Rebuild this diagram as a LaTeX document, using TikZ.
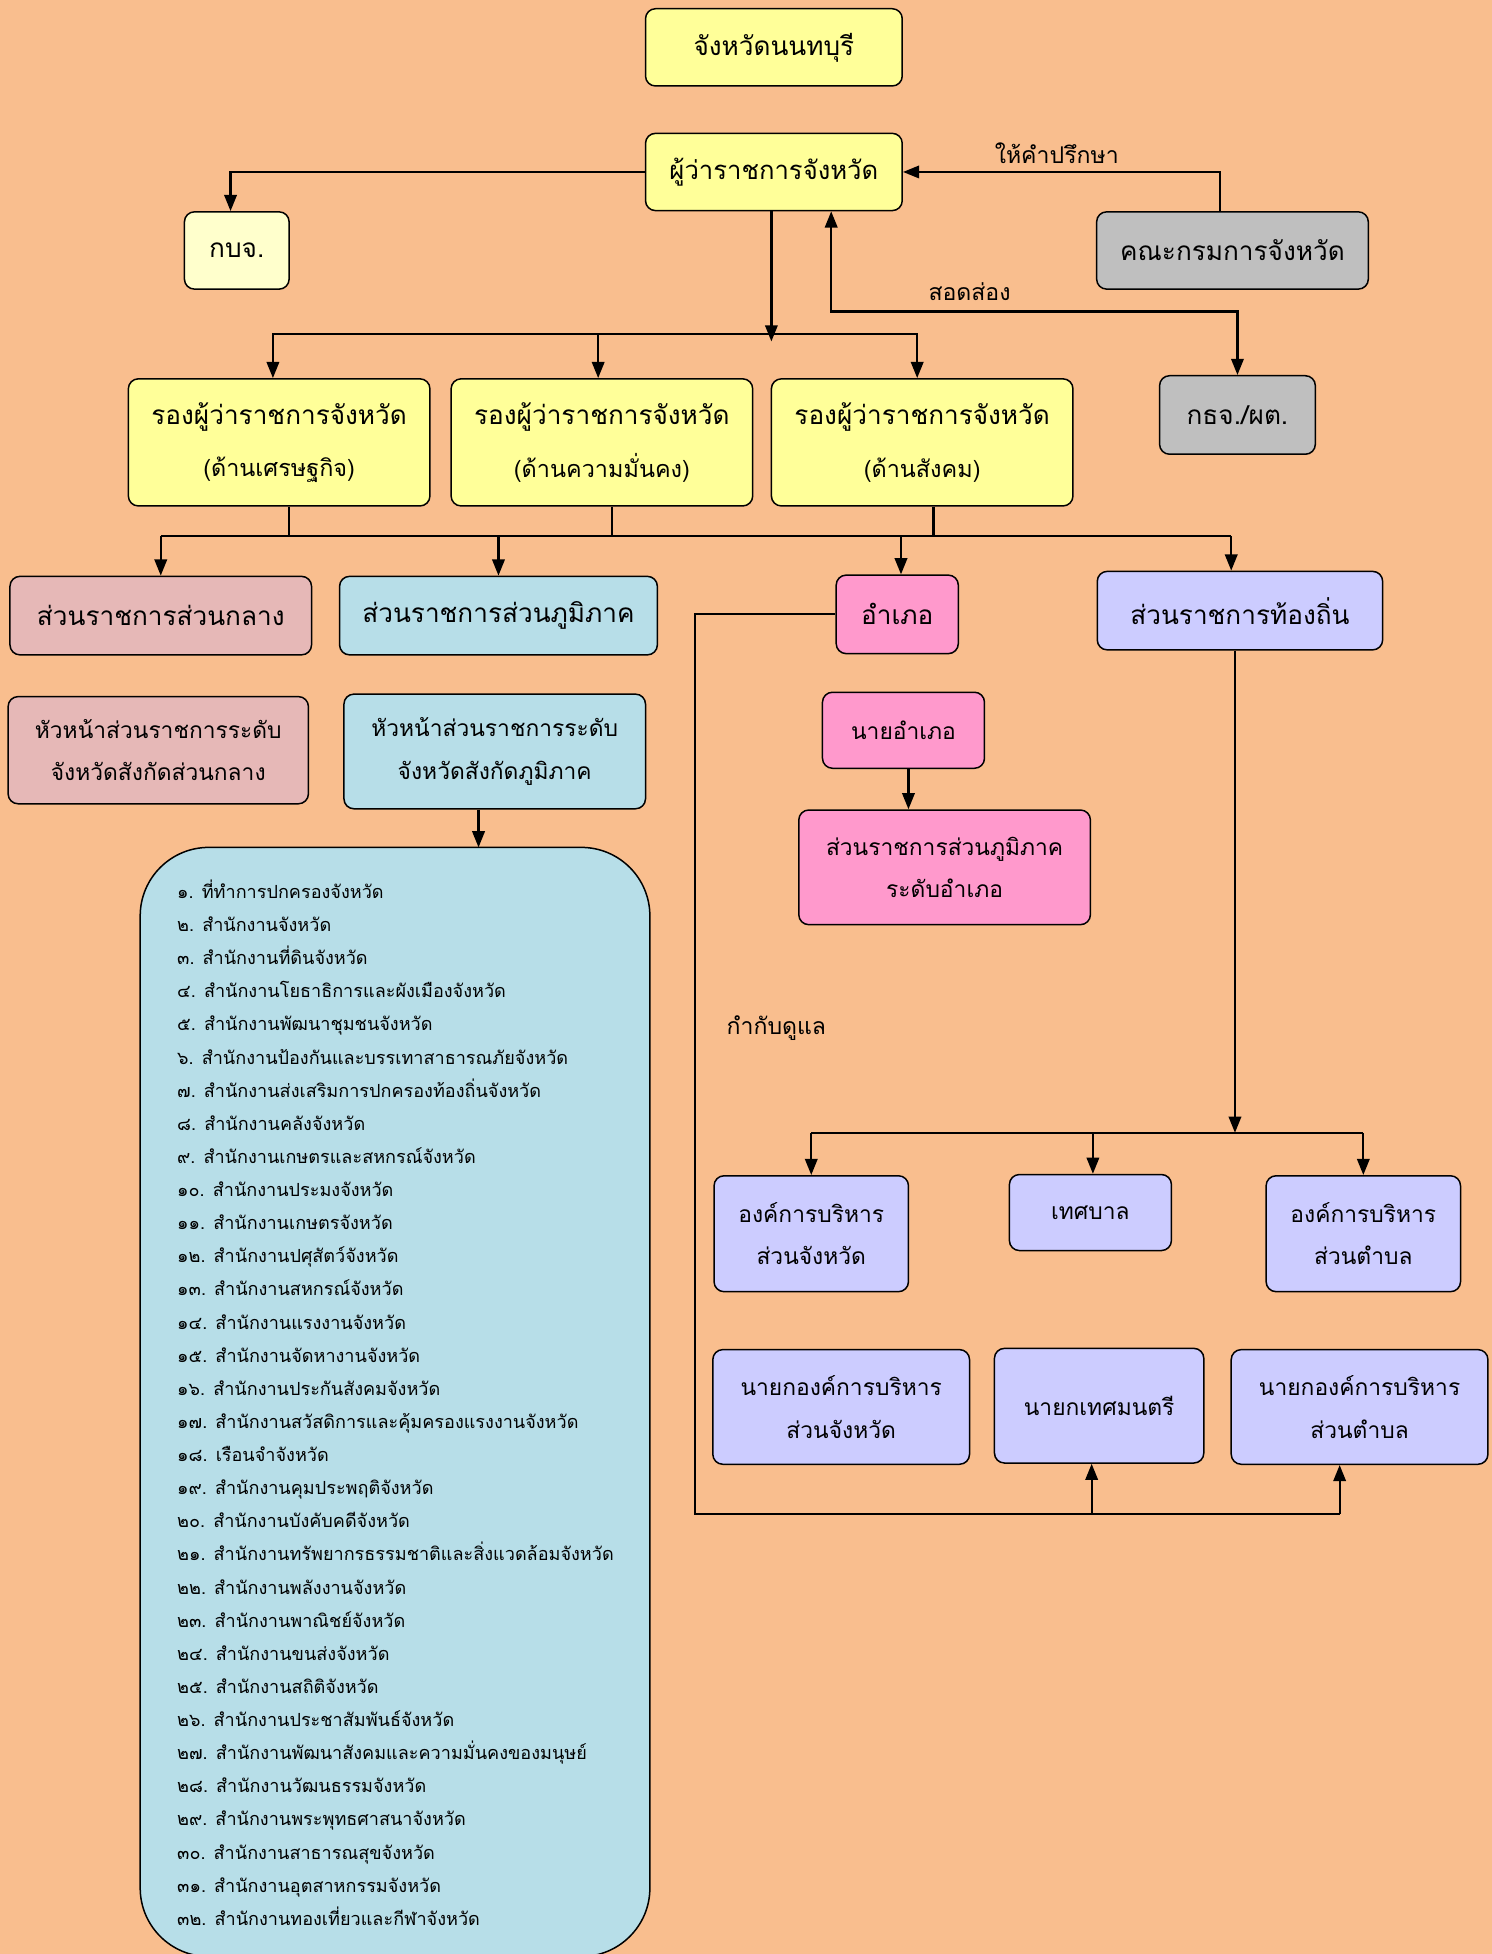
\documentclass[tikz,border=0pt]{standalone}
\usepackage{fontspec}
\setmainfont[Script=Thai]{Loma}
\usepackage{xcolor}
\usetikzlibrary{arrows.meta}
\definecolor{customcolor1}{HTML}{F9BE8E}
\definecolor{customcolor2}{HTML}{FFFF99}
\definecolor{customcolor3}{HTML}{FFFFCC}
\definecolor{customcolor4}{HTML}{BFBFBF}
\definecolor{customcolor5}{HTML}{E6B8B7}
\definecolor{customcolor6}{HTML}{B7DEE8}
\definecolor{customcolor7}{HTML}{FF99CC}
\definecolor{customcolor8}{HTML}{CCCCFF}

\begin{document}
\begin{tikzpicture}[x = 1pt, y = -1pt,
        box/.style = {draw, rectangle, rounded corners = 8pt, line width = 1.2pt, align = center, font = \fontsize{18.3}{34}\selectfont},
        bigbox/.style = {box, font = \fontsize{21}{26}\selectfont},
        deputy/.style = {box, fill = customcolor2, minimum width = 242pt, minimum height = 102pt, font = \fontsize{21}{42}\selectfont},
        item/.style = {anchor = base west, inner sep = 0pt, font = \fontsize{14.5}{18}\selectfont},
        lbl/.style = {font = \fontsize{18.5}{22}\selectfont},
        link/.style = {line width = 1.8pt},
        arr/.style = {link, ->, > = {Triangle[length = 13pt, width = 10pt]}}]

        % Background
        \fill [customcolor1] (0, 0) rectangle (1197, 1568);
        \useasboundingbox (0, 0) rectangle (1197, 1568);

        % Nodes
        \node [bigbox, fill = customcolor2, minimum width = 206pt, minimum height = 62pt] (title) at (621, 38) {จังหวัดนนทบุรี};
        \node [bigbox, fill = customcolor2, minimum width = 206pt, minimum height = 62pt, font = \fontsize{20.6}{26}\selectfont] (gov) at (621, 138) {ผู้ว่าราชการจังหวัด};
        \node [bigbox, fill = customcolor3, minimum width = 84pt, minimum height = 62pt] (kbj) at (190, 201) {กบจ.};
        \node [bigbox, fill = customcolor4, minimum width = 218pt, minimum height = 62pt] (cmt) at (989, 201) {คณะกรมการจังหวัด};
        \node [bigbox, fill = customcolor4, minimum width = 125pt, minimum height = 63pt] (kbt) at (993, 333) {กธจ./ผต.};

        \node [deputy] (dep1) at (224, 355) {รองผู้ว่าราชการจังหวัด\\{\fontsize{18.8}{22}\selectfont(ด้านเศรษฐกิจ)}};
        \node [deputy] (dep2) at (483, 355) {รองผู้ว่าราชการจังหวัด\\{\fontsize{18.8}{22}\selectfont(ด้านความมั่นคง)}};
        \node [deputy] (dep3) at (740, 355) {รองผู้ว่าราชการจังหวัด\\{\fontsize{18.8}{22}\selectfont(ด้านสังคม)}};

        \node [bigbox, fill = customcolor5, minimum width = 242pt, minimum height = 63pt] (cen) at (129, 494) {ส่วนราชการส่วนกลาง};
        \node [bigbox, fill = customcolor6, minimum width = 255pt, minimum height = 63pt] (reg) at (400, 494) {ส่วนราชการส่วนภูมิภาค};
        \node [bigbox, fill = customcolor7, minimum width = 98pt, minimum height = 63pt] (amp) at (720, 493) {อำเภอ};
        \node [bigbox, fill = customcolor8, minimum width = 229pt, minimum height = 63pt] (loc) at (995, 490) {ส่วนราชการท้องถิ่น};

        \node [box, fill = customcolor5, minimum width = 241pt, minimum height = 86pt] (hd1) at (127, 602) {หัวหน้าส่วนราชการระดับ\\จังหวัดสังกัดส่วนกลาง};
        \node [box, fill = customcolor6, minimum width = 242pt, minimum height = 92pt] (hd2) at (397, 603) {หัวหน้าส่วนราชการระดับ\\จังหวัดสังกัดภูมิภาค};
        \node [box, fill = customcolor7, minimum width = 130pt, minimum height = 61pt] (nao) at (725, 586) {นายอำเภอ};
        \node [box, fill = customcolor7, minimum width = 234pt, minimum height = 92pt] (dist) at (758, 696) {ส่วนราชการส่วนภูมิภาค\\ระดับอำเภอ};

        \node [box, fill = customcolor6, rounded corners = 55pt, minimum width = 409pt, minimum height = 890pt] (list) at (317, 1125) {};
        \foreach \txt [count = \i] in {๑. ที่ทำการปกครองจังหวัด, ๒. สำนักงานจังหวัด, ๓. สำนักงานที่ดินจังหวัด, ๔. สำนักงานโยธาธิการและผังเมืองจังหวัด, ๕. สำนักงานพัฒนาชุมชนจังหวัด, ๖. สำนักงานป้องกันและบรรเทาสาธารณภัยจังหวัด, ๗. สำนักงานส่งเสริมการปกครองท้องถิ่นจังหวัด, ๘. สำนักงานคลังจังหวัด, ๙. สำนักงานเกษตรและสหกรณ์จังหวัด, ๑๐. สำนักงานประมงจังหวัด, ๑๑. สำนักงานเกษตรจังหวัด, ๑๒. สำนักงานปศุสัตว์จังหวัด, ๑๓. สำนักงานสหกรณ์จังหวัด, ๑๔. สำนักงานแรงงานจังหวัด, ๑๕. สำนักงานจัดหางานจังหวัด, ๑๖. สำนักงานประกันสังคมจังหวัด, ๑๗. สำนักงานสวัสดิการและคุ้มครองแรงงานจังหวัด, ๑๘. เรือนจำจังหวัด, ๑๙. สำนักงานคุมประพฤติจังหวัด, ๒๐. สำนักงานบังคับคดีจังหวัด, ๒๑. สำนักงานทรัพยากรธรรมชาติและสิ่งแวดล้อมจังหวัด, ๒๒. สำนักงานพลังงานจังหวัด, ๒๓. สำนักงานพาณิชย์จังหวัด, ๒๔. สำนักงานขนส่งจังหวัด, ๒๕. สำนักงานสถิติจังหวัด, ๒๖. สำนักงานประชาสัมพันธ์จังหวัด, ๒๗. สำนักงานพัฒนาสังคมและความมั่นคงของมนุษย์, ๒๘. สำนักงานวัฒนธรรมจังหวัด, ๒๙. สำนักงานพระพุทธศาสนาจังหวัด, ๓๐. สำนักงานสาธารณสุขจังหวัด, ๓๑. สำนักงานอุตสาหกรรมจังหวัด, ๓๒. สำนักงานทองเที่ยวและกีฬาจังหวัด}
            \node [item] (item\i) at (142, {721 + (\i - 1) * 26.58}) {\txt};

        \node [box, fill = customcolor8, minimum width = 156pt, minimum height = 93pt] (pao) at (651, 990) {องค์การบริหาร\\ส่วนจังหวัด};
        \node [box, fill = customcolor8, minimum width = 130pt, minimum height = 61pt] (tes) at (875, 973) {เทศบาล};
        \node [box, fill = customcolor8, minimum width = 156pt, minimum height = 93pt] (tao) at (1094, 990) {องค์การบริหาร\\ส่วนตำบล};
        \node [box, fill = customcolor8, minimum width = 206pt, minimum height = 92pt] (may1) at (675, 1129) {นายกองค์การบริหาร\\ส่วนจังหวัด};
        \node [box, fill = customcolor8, minimum width = 168pt, minimum height = 92pt] (may2) at (882, 1128) {นายกเทศมนตรี};
        \node [box, fill = customcolor8, minimum width = 206pt, minimum height = 92pt] (may3) at (1091, 1129) {นายกองค์การบริหาร\\ส่วนตำบล};

        % Labels on the links
        \node [lbl] (advise) at (848, 123) {ให้คำปรึกษา};
        \node [lbl] (watch) at (778, 234) {สอดส่อง};
        \node [lbl] (superv) at (623, 825) {กำกับดูแล};

        % Junction points
        \coordinate (bus1) at (483, 268);
        \coordinate (watchbend) at (667, 250);
        \coordinate (bus2) at (0, 430);
        \coordinate (supbend) at (558, 1215);
        \coordinate (listin) at (384, 680);
        \coordinate (bus3) at (0, 909);

        % Draw the links
        \draw [arr] (gov.west) -| ([xshift = -5pt]kbj.north);
        \draw [arr] ([xshift = -10pt]cmt.north) |- (gov.east);
        \draw [arr] ([xshift = -2pt]gov.south) -- ([xshift = -2pt, yshift = -6pt]gov.south |- bus1);
        \draw [link] ([xshift = -5pt]dep1.north |- bus1) -- ([xshift = -4pt]dep3.north |- bus1);
        \draw [arr] (bus1) -| ([xshift = -5pt]dep1.north);
        \draw [arr] ([xshift = -3pt]bus1) -- ([xshift = -3pt]dep2.north);
        \draw [arr] (bus1) -| ([xshift = -4pt]dep3.north);
        \draw [arr, <->] (gov.south -| watchbend) -- (watchbend) -| (kbt.north);

        \draw [link] ([xshift = 8pt]dep1.south) -- ([xshift = 8pt]dep1.south |- bus2);
        \draw [link] ([xshift = 8pt]dep2.south) -- ([xshift = 8pt]dep2.south |- bus2);
        \draw [link] ([xshift = 9pt]dep3.south) -- ([xshift = 9pt]dep3.south |- bus2);
        \draw [link] (cen.north |- bus2) -- ([xshift = -7pt]loc.north |- bus2);
        \draw [arr] (cen.north |- bus2) -- (cen.north);
        \draw [arr] (reg.north |- bus2) -- (reg.north);
        \draw [arr] ([xshift = 3pt]amp.north |- bus2) -- ([xshift = 3pt]amp.north);
        \draw [arr] ([xshift = -7pt]loc.north |- bus2) -- ([xshift = -7pt]loc.north);

        \draw [arr] (hd2.south -| listin) -- (listin);
        \draw [arr] ([xshift = 4pt]nao.south) -- ([xshift = 4pt]nao.south |- dist.north);

        \draw [link] (amp.west) -| (supbend) -- ([xshift = -16pt]may3.south |- supbend);
        \draw [arr] ([xshift = -6pt]may2.south |- supbend) -- ([xshift = -6pt]may2.south);
        \draw [arr] ([xshift = -16pt]may3.south |- supbend) -- ([xshift = -16pt]may3.south);

        \draw [arr] ([xshift = -4pt]loc.south) -- ([xshift = -4pt]loc.south |- bus3);
        \draw [link] (pao.north |- bus3) -- (tao.north |- bus3);
        \draw [arr] (pao.north |- bus3) -- (pao.north);
        \draw [arr] ([xshift = 2pt]tes.north |- bus3) -- ([xshift = 2pt]tes.north);
        \draw [arr] (tao.north |- bus3) -- (tao.north);

    \end{tikzpicture}
\end{document}
